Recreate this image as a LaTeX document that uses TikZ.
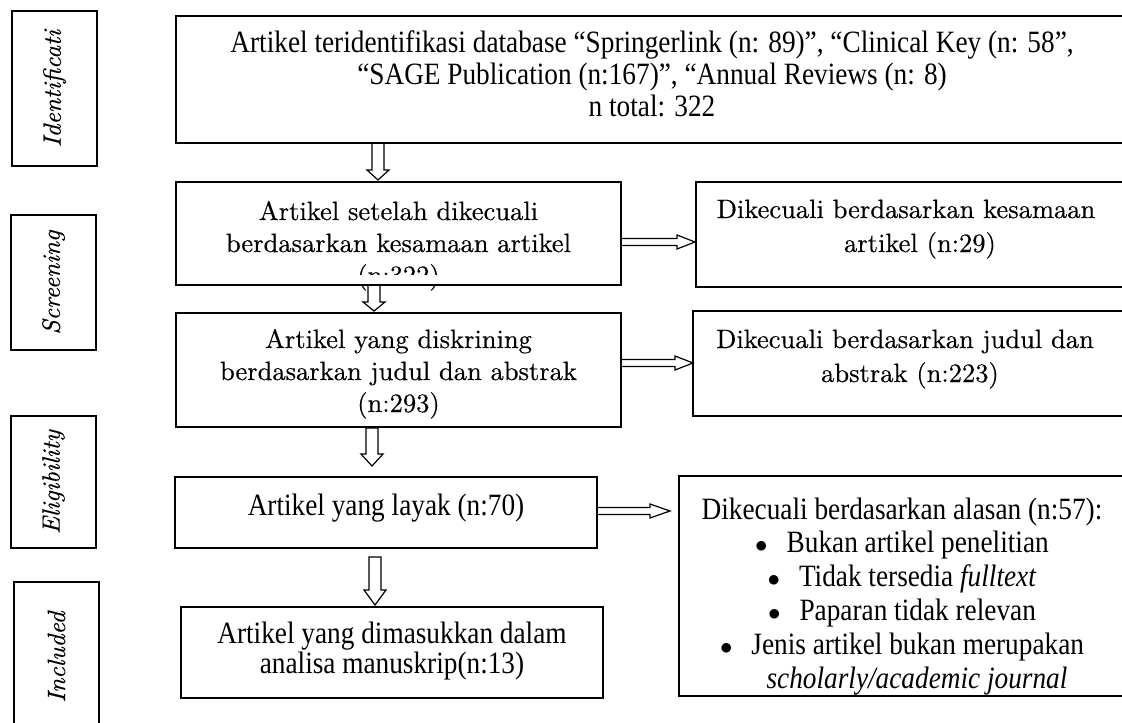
\documentclass[tikz,border=0pt]{standalone}
\usepackage{fontspec}
\setmainfont{lmroman10-regular}[Extension=.otf,FakeBold=0.4,ItalicFont=lmroman10-italic,ItalicFeatures={FakeBold=0.4}]
\newfontfamily\cond[FakeStretch=0.88]{Liberation Serif}
\usetikzlibrary{calc}
% parbox with fixed size; #3 extra right skip (shifts text left), #4 height of first line (baseline offset)
\newcommand{\boxtxt}[5]{\parbox[t][#2][t]{#1}{\centering\rightskip=#3 plus 1fil\relax\rule{0pt}{#4}#5}}
\newcommand{\bul}{$\bullet$\hspace{19pt}}
% vertical hollow block arrow: #1 from, #2 to, #3 x, #4 start gap, #5 end gap, #6 shaft half width, #7 head half width, #8 head length
\newcommand{\vblockarr}[8]{%
  \draw[barrow] let \p1=(#1), \p2=(#2) in
    (#3-#6,\y1-#4) -- (#3-#6,\y2+#5+#8) -- (#3-#7,\y2+#5+#8) -- (#3,\y2+#5)
    -- (#3+#7,\y2+#5+#8) -- (#3+#6,\y2+#5+#8) -- (#3+#6,\y1-#4) -- cycle;}
% horizontal hollow block arrow: #1 from, #2 to, #3 y, #4 start gap, #5 end gap, #6 shaft half width, #7 head half width, #8 head length
\newcommand{\hblockarr}[8]{%
  \draw[barrow] let \p1=(#1), \p2=(#2) in
    (\x1+#4,#3+#6) -- (\x2-#5-#8,#3+#6) -- (\x2-#5-#8,#3+#7) -- (\x2-#5,#3)
    -- (\x2-#5-#8,#3-#7) -- (\x2-#5-#8,#3-#6) -- (\x1+#4,#3-#6) -- cycle;}
\begin{document}
\begin{tikzpicture}[x=1pt,y=1pt,
  box/.style={draw,line width=1.5pt,inner sep=0pt,outer sep=0pt},
  barrow/.style={draw,line width=1.2pt,line join=miter},
  lbl/.style={box,rotate=90,font=\fontsize{25}{30}\selectfont\itshape}]
\useasboundingbox (0,0) rectangle (1122,-723);
\clip (0,0) rectangle (1122,-723);

% stage labels
\node[lbl,minimum width=155pt,minimum height=85pt] (l1) at (54.5,-88.5) {Identificati};
\node[lbl,minimum width=135pt,minimum height=85pt] (l2) at (53.5,-282.5) {Screening};
\node[lbl,minimum width=132pt,minimum height=85pt] (l3) at (53.5,-482) {Eligibility};
\node[lbl,minimum width=150pt,minimum height=85pt] (l4) at (56.5,-657) {Included};

% main column
\node[box,anchor=north west] (b1) at (176,-16) {\cond\fontsize{31}{32}\selectfont\boxtxt{980pt}{127pt}{28pt}{36pt}{Artikel teridentifikasi database “Springerlink (n: 89)”, “Clinical Key (n: 58”,\\“SAGE Publication (n:167)”, “Annual Reviews (n: 8)\\n total: 322}};
\node[box,anchor=north west] (b2) at (176,-182) {\fontsize{26.5}{32}\selectfont\boxtxt{445pt}{103pt}{0pt}{38pt}{Artikel setelah dikecuali\\berdasarkan kesamaan artikel\\(n:322)}};
\fill[white] (176.8,-275) rectangle (620.2,-284.2);
\node[box,anchor=north west] (b3) at (176,-313) {\fontsize{26.5}{32}\selectfont\boxtxt{445pt}{114pt}{0pt}{35pt}{Artikel yang diskrining\\berdasarkan judul dan abstrak\\(n:293)}};
\node[box,anchor=north west] (b4) at (175,-477) {\cond\fontsize{31}{30}\selectfont\boxtxt{422pt}{71pt}{0pt}{38pt}{Artikel yang layak (n:70)}};
\node[box,anchor=north west] (b5) at (181,-607) {\cond\fontsize{31}{30}\selectfont\boxtxt{422pt}{91pt}{0pt}{36pt}{Artikel yang dimasukkan dalam\\analisa manuskrip(n:13)}};

% exclusion column
\node[box,anchor=north west] (r1) at (696,-182) {\fontsize{26.5}{34}\selectfont\boxtxt{450pt}{105pt}{30pt}{36pt}{Dikecuali berdasarkan kesamaan\\\hspace*{28pt}artikel (n:29)}};
\node[box,anchor=north west] (r2) at (693,-311) {\fontsize{26.5}{34}\selectfont\boxtxt{450pt}{105pt}{26pt}{37pt}{Dikecuali berdasarkan judul dan\\\hspace*{10pt}abstrak (n:223)}};
\node[box,anchor=north west] (r3) at (679,-476) {\cond\fontsize{31}{33.8}\selectfont\boxtxt{470pt}{220pt}{24pt}{43pt}{Dikecuali berdasarkan alasan (n:57):\\
\bul Bukan artikel penelitian\\
\bul Tidak tersedia \textit{fulltext}\\
\bul Paparan tidak relevan\\
\bul Jenis artikel bukan merupakan\\
\hspace*{30pt}\textit{scholarly/academic journal}}};

% connectors
\vblockarr{b1.south}{b2.north}{378}{0}{2}{6}{11}{10}
\vblockarr{b2.south}{b3.north}{374}{0}{2}{6}{11}{9}
\vblockarr{b3.south}{b4.north}{372}{1}{11}{6}{11}{12}
\vblockarr{b4.south}{b5.north}{375}{9}{2}{6}{11}{15}
\hblockarr{b2.east}{r1.west}{-242}{0}{1}{3.5}{7}{18}
\hblockarr{b3.east}{r2.west}{-363}{0}{0}{3.5}{7}{18}
\hblockarr{b4.east}{r3.west}{-511}{0}{9}{3.5}{7}{20}
\end{tikzpicture}
\end{document}
